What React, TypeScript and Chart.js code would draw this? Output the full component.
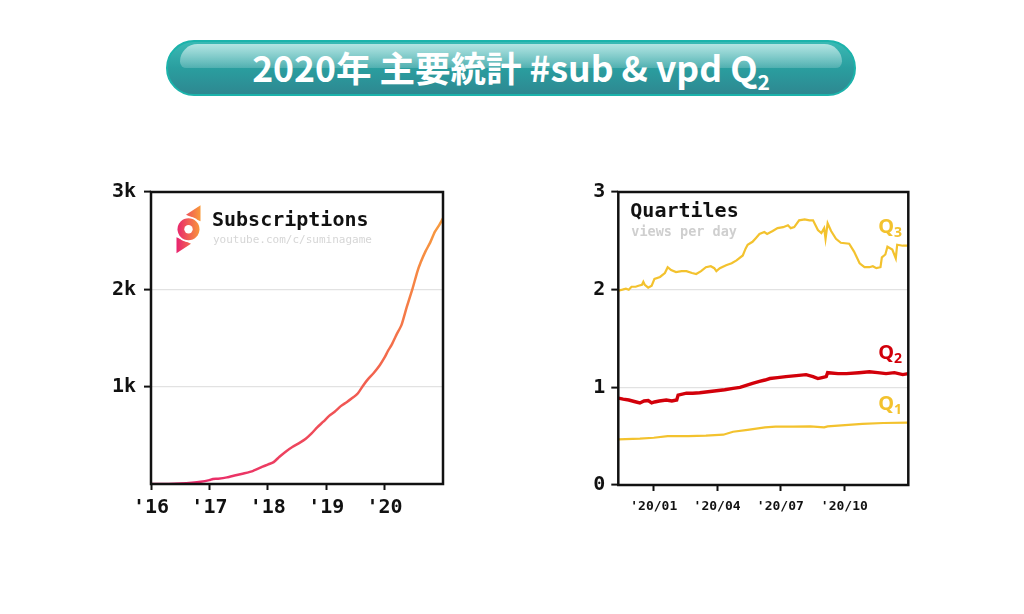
import { useEffect, useRef } from 'react';
import Chart from 'chart.js/auto';

// subscriptions (left chart), x in decimal years
const subYears = [
  2016.0, 2016.3, 2016.5, 2016.7, 2016.85, 2017.0, 2017.06, 2017.15, 2017.3, 2017.45,
  2017.6, 2017.75, 2017.9, 2018.0, 2018.1, 2018.2, 2018.3, 2018.42, 2018.55, 2018.65,
  2018.75, 2018.85, 2018.95, 2019.05, 2019.15, 2019.25, 2019.35, 2019.44, 2019.54, 2019.64,
  2019.72, 2019.81, 2019.92, 2020.0, 2020.06, 2020.12, 2020.2, 2020.29, 2020.38, 2020.48,
  2020.56, 2020.62, 2020.7, 2020.78, 2020.86, 2020.94, 2021.0,
];
const subCounts = [
  0, 0, 4, 12, 22, 40, 52, 55, 68, 90,
  110, 135, 175, 200, 225, 280, 330, 380, 425, 465,
  520, 585, 640, 700, 745, 800, 840, 880, 930, 1018,
  1080, 1138, 1223, 1300, 1370, 1429, 1530, 1635, 1820, 2010,
  2180, 2280, 2390, 2480, 2590, 2665, 2730,
];
const subXTicks = [2016, 2017, 2018, 2019, 2020];
const subXLabels = ["'16", "'17", "'18", "'19", "'20"];
const subYTicks = [1000, 2000, 3000];
const subYLabels = ['1k', '2k', '3k'];

// quartiles of views per day (right chart), x in days since 2020-01-01
const q3Days = [
  -51, -45, -40, -36, -32, -26, -22, -17, -15, -13, -8, -3, 1, 9, 16, 20, 25, 32, 40, 47,
  55, 61, 68, 75, 82, 87, 90, 95, 104, 112, 119, 128, 132, 135, 142, 147, 152, 159, 163, 171,
  178, 186, 193, 197, 202, 209, 217, 224, 229, 236, 241, 245, 247, 250, 255, 262, 269, 281, 288, 296,
  303, 310, 315, 320, 326, 328, 333, 336, 343, 348, 350, 358, 366,
];
const q3Values = [
  1.99, 2.0, 2.01, 2.0, 2.03, 2.03, 2.04, 2.05, 2.08, 2.05, 2.02, 2.04, 2.11, 2.13, 2.17, 2.23, 2.2, 2.18, 2.19, 2.19,
  2.17, 2.16, 2.19, 2.23, 2.24, 2.22, 2.19, 2.22, 2.25, 2.27, 2.3, 2.35, 2.42, 2.46, 2.49, 2.53, 2.57, 2.59, 2.57, 2.6,
  2.63, 2.64, 2.66, 2.63, 2.64, 2.71, 2.72, 2.71, 2.71, 2.61, 2.58, 2.63, 2.52, 2.68, 2.6, 2.52, 2.48, 2.47, 2.39, 2.27,
  2.23, 2.23, 2.24, 2.22, 2.23, 2.33, 2.36, 2.44, 2.41, 2.32, 2.46, 2.45, 2.45,
];
const q2Days = [
  -51, -44, -36, -28, -20, -14, -8, -3, 1, 8, 18, 26, 33, 35, 47, 56, 66, 78, 90, 102,
  114, 124, 133, 142, 152, 160, 167, 178, 190, 205, 219, 229, 236, 242, 248, 250, 265, 277, 295, 310,
  322, 334, 346, 358, 366,
];
const q2Values = [
  0.89, 0.88, 0.87, 0.855, 0.84, 0.86, 0.865, 0.84, 0.85, 0.86, 0.87, 0.86, 0.87, 0.92, 0.94, 0.94, 0.945, 0.955, 0.965, 0.975,
  0.99, 1.0, 1.02, 1.04, 1.06, 1.075, 1.09, 1.1, 1.11, 1.12, 1.13, 1.11, 1.09, 1.1, 1.11, 1.15, 1.14, 1.14, 1.15, 1.16,
  1.15, 1.14, 1.15, 1.13, 1.14,
];
const q1Days = [-51, -20, 0, 20, 50, 75, 100, 114, 135, 160, 175, 200, 225, 245, 250, 270, 300, 330, 366];
const q1Values = [0.467, 0.475, 0.484, 0.5, 0.5, 0.505, 0.515, 0.545, 0.565, 0.59, 0.597, 0.597, 0.6, 0.59, 0.6, 0.61, 0.625, 0.635, 0.638];
const qXTicks = [0, 91, 182, 274];
const qXLabels = ["'20/01", "'20/04", "'20/07", "'20/10"];
const qYTicks = [0, 1, 2, 3];
const qYLabels = ['0', '1', '2', '3'];

const MONO = 'DejaVu Sans Mono';
const GOLD = '#f3c22e';
const RED = '#d2000a';

const pairs = (xs: number[], ys: number[]) => xs.map((x, i) => ({ x, y: ys[i] }));
const labelFor = (ticks: number[], labels: string[]) => (v: number | string) => {
  const i = ticks.indexOf(Number(v));
  return i >= 0 ? labels[i] : '';
};

const framePlugin = {
  id: 'frame',
  afterDraw(chart: any) {
    const { ctx, chartArea: a } = chart;
    ctx.save();
    ctx.strokeStyle = '#111';
    ctx.lineWidth = 2.5;
    ctx.strokeRect(a.left, a.top, a.right - a.left, a.bottom - a.top);
    ctx.restore();
  },
};

function SubscriptionsChart() {
  const canvasRef = useRef<HTMLCanvasElement>(null);
  const chartRef = useRef<Chart | null>(null);

  useEffect(() => {
    if (!canvasRef.current) return;
    if (chartRef.current) chartRef.current.destroy();

    const legendPlugin = {
      id: 'subLegend',
      afterDraw(chart: any) {
        const { ctx, chartArea: a } = chart;
        const cx = a.left + 37.5;
        const cy = a.top + 37.3;
        ctx.save();
        const g = ctx.createLinearGradient(cx - 12, cy, cx + 12, cy);
        g.addColorStop(0, '#e8226f');
        g.addColorStop(1, '#f99a3a');
        ctx.fillStyle = g;
        // triangles
        ctx.beginPath();
        ctx.moveTo(cx - 2.5, cy - 14.5);
        ctx.lineTo(cx + 12, cy - 24);
        ctx.lineTo(cx + 12, cy - 8);
        ctx.closePath();
        ctx.fill();
        ctx.beginPath();
        ctx.moveTo(cx + 2.5, cy + 14.5);
        ctx.lineTo(cx - 12, cy + 24);
        ctx.lineTo(cx - 12, cy + 8);
        ctx.closePath();
        ctx.fill();
        // white gap ring, disk, inner dot
        ctx.fillStyle = '#fff';
        ctx.beginPath();
        ctx.arc(cx, cy, 12.8, 0, Math.PI * 2);
        ctx.fill();
        ctx.fillStyle = g;
        ctx.beginPath();
        ctx.arc(cx, cy, 11, 0, Math.PI * 2);
        ctx.fill();
        ctx.fillStyle = '#fff';
        ctx.beginPath();
        ctx.arc(cx, cy, 4.2, 0, Math.PI * 2);
        ctx.fill();

        ctx.fillStyle = '#111';
        ctx.font = `bold 20px "${MONO}"`;
        ctx.textBaseline = 'alphabetic';
        ctx.fillText('Subscriptions', a.left + 61, a.top + 33.5);
        ctx.fillStyle = '#d6d6d6';
        ctx.font = `11px "${MONO}"`;
        ctx.fillText('youtube.com/c/suminagame', a.left + 62, a.top + 51);
        ctx.restore();
      },
    };

    chartRef.current = new Chart(canvasRef.current, {
      type: 'line',
      data: {
        datasets: [{
          data: pairs(subYears, subCounts),
          borderWidth: 2.5,
          pointRadius: 0,
          tension: 0.2,
          borderColor: (c: any) => {
            const a = c.chart.chartArea;
            if (!a) return '#f06a50';
            const g = c.chart.ctx.createLinearGradient(a.left, a.bottom, a.right, a.top);
            g.addColorStop(0, '#e8226f');
            g.addColorStop(0.55, '#f2604f');
            g.addColorStop(1, '#f8a23c');
            return g;
          },
        }],
      },
      options: {
        animation: false,
        responsive: true,
        maintainAspectRatio: false,
        layout: { padding: { top: 32, right: 17, left: 0, bottom: 0 } },
        plugins: { legend: { display: false }, tooltip: { enabled: false } },
        scales: {
          x: {
            type: 'linear',
            min: 2016,
            max: 2021,
            afterBuildTicks: (s: any) => { s.ticks = subXTicks.map((value) => ({ value })); },
            afterFit: (s: any) => { s.height = 56; },
            border: { display: false },
            grid: { drawOnChartArea: false, drawTicks: true, tickLength: 6, tickColor: '#111', tickWidth: 2 },
            ticks: {
              autoSkip: false,
              maxRotation: 0,
              padding: 6,
              color: '#111',
              font: { family: MONO, weight: 'bold', size: 20 },
              callback: labelFor(subXTicks, subXLabels),
            },
          },
          y: {
            min: 0,
            max: 3000,
            afterBuildTicks: (s: any) => { s.ticks = subYTicks.map((value) => ({ value })); },
            afterFit: (s: any) => { s.width = 91; },
            border: { display: false },
            grid: { color: '#e2e2e2', lineWidth: 1.2, drawTicks: true, tickLength: 7, tickColor: '#111', tickWidth: 2 },
            ticks: {
              padding: 8,
              color: '#111',
              font: { family: MONO, weight: 'bold', size: 20 },
              callback: labelFor(subYTicks, subYLabels),
            },
          },
        },
      },
      plugins: [framePlugin, legendPlugin],
    } as any);

    return () => {
      if (chartRef.current) chartRef.current.destroy();
      chartRef.current = null;
    };
  }, []);

  return <canvas ref={canvasRef} />;
}

function QuartilesChart() {
  const canvasRef = useRef<HTMLCanvasElement>(null);
  const chartRef = useRef<Chart | null>(null);

  useEffect(() => {
    if (!canvasRef.current) return;
    if (chartRef.current) chartRef.current.destroy();

    const labelsPlugin = {
      id: 'qLabels',
      afterDraw(chart: any) {
        const { ctx, chartArea: a } = chart;
        const y = chart.scales.y;
        ctx.save();
        ctx.textBaseline = 'alphabetic';
        ctx.fillStyle = '#111';
        ctx.font = `bold 20px "${MONO}"`;
        ctx.fillText('Quartiles', a.left + 12, a.top + 24.5);
        ctx.fillStyle = '#cfcfcf';
        ctx.font = `bold 13.5px "${MONO}"`;
        ctx.fillText('views per day', a.left + 13, a.top + 43.7);

        const q = (sub: string, value: number, color: string) => {
          const by = y.getPixelForValue(value);
          const x = a.right - 30;
          ctx.fillStyle = color;
          ctx.font = 'bold 20px "Noto Sans"';
          ctx.fillText('Q', x, by);
          const w = ctx.measureText('Q').width;
          ctx.font = 'bold 14px "Noto Sans"';
          ctx.fillText(sub, x + w, by + 4);
        };
        q('3', 2.58, GOLD);
        q('2', 1.29, RED);
        q('1', 0.77, GOLD);
        ctx.restore();
      },
    };

    chartRef.current = new Chart(canvasRef.current, {
      type: 'line',
      data: {
        datasets: [
          { data: pairs(q3Days, q3Values), borderColor: GOLD, borderWidth: 2.2, pointRadius: 0, tension: 0 },
          { data: pairs(q2Days, q2Values), borderColor: RED, borderWidth: 3.4, pointRadius: 0, tension: 0 },
          { data: pairs(q1Days, q1Values), borderColor: GOLD, borderWidth: 2.2, pointRadius: 0, tension: 0 },
        ],
      },
      options: {
        animation: false,
        responsive: true,
        maintainAspectRatio: false,
        layout: { padding: { top: 32, right: 21.7, left: 0, bottom: 0 } },
        plugins: { legend: { display: false }, tooltip: { enabled: false } },
        scales: {
          x: {
            type: 'linear',
            min: -51,
            max: 366,
            afterBuildTicks: (s: any) => { s.ticks = qXTicks.map((value) => ({ value })); },
            afterFit: (s: any) => { s.height = 55; },
            border: { display: false },
            grid: { drawOnChartArea: false, drawTicks: true, tickLength: 6, tickColor: '#111', tickWidth: 2 },
            ticks: {
              autoSkip: false,
              maxRotation: 0,
              padding: 8,
              color: '#111',
              font: { family: MONO, weight: 'bold', size: 13 },
              callback: labelFor(qXTicks, qXLabels),
            },
          },
          y: {
            min: 0,
            max: 3,
            afterBuildTicks: (s: any) => { s.ticks = qYTicks.map((value) => ({ value })); },
            afterFit: (s: any) => { s.width = 88.3; },
            border: { display: false },
            grid: { color: '#e2e2e2', lineWidth: 1.2, drawTicks: true, tickLength: 7, tickColor: '#111', tickWidth: 2 },
            ticks: {
              padding: 6,
              color: '#111',
              font: { family: MONO, weight: 'bold', size: 20 },
              callback: labelFor(qYTicks, qYLabels),
            },
          },
        },
      },
      plugins: [framePlugin, labelsPlugin],
    } as any);

    return () => {
      if (chartRef.current) chartRef.current.destroy();
      chartRef.current = null;
    };
  }, []);

  return <canvas ref={canvasRef} />;
}

export default function App() {
  return (
    <div style={{ position: 'absolute', left: 0, top: 0, width: 1024, height: 614, background: '#fff', overflow: 'hidden' }}>
      <div
        style={{
          position: 'absolute', left: 166, top: 40, width: 690, height: 56, borderRadius: 28,
          boxSizing: 'border-box', border: '2px solid #1cb3ab', overflow: 'hidden',
          background: 'linear-gradient(#3ab9b4, #2a9e9f 50%, #2e8891)',
        }}
      >
        <div
          style={{
            position: 'absolute', left: 12, right: 12, top: 2, height: 24, borderRadius: '22px 22px 8px 8px',
            background: 'linear-gradient(rgba(255,255,255,0.62), rgba(255,255,255,0.18))',
          }}
        />
        <div
          style={{
            position: 'absolute', inset: 0, display: 'flex', alignItems: 'center', justifyContent: 'center',
            color: '#fff', fontFamily: '"Noto Sans CJK JP"', fontWeight: 700, fontSize: 35.5, lineHeight: 1,
            paddingBottom: 2,
          }}
        >
          <span>2020年 主要統計 #sub &amp; vpd Q<span style={{ fontSize: 21, position: 'relative', top: 8 }}>2</span></span>
        </div>
      </div>
      <div style={{ position: 'absolute', left: 60, top: 160, width: 400, height: 380 }}>
        <SubscriptionsChart />
      </div>
      <div style={{ position: 'absolute', left: 530, top: 160, width: 400, height: 380 }}>
        <QuartilesChart />
      </div>
    </div>
  );
}
